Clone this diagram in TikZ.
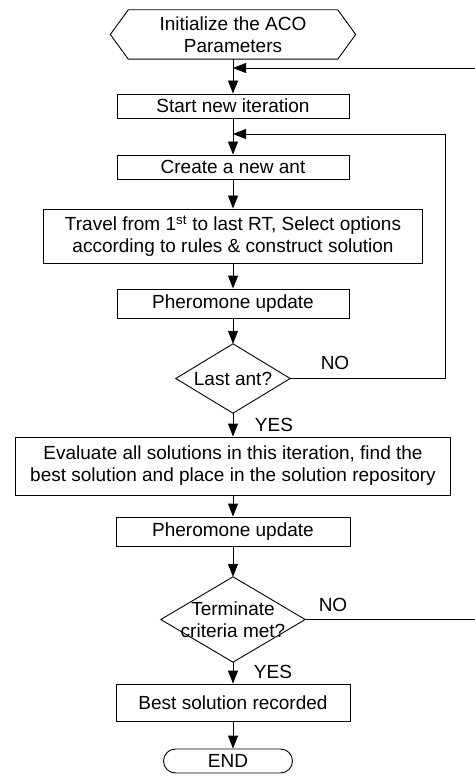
\documentclass[tikz,border=0pt]{standalone}
\usepackage{fontspec}
\setmainfont{Liberation Sans}
\usetikzlibrary{arrows.meta}
\begin{document}
\begin{tikzpicture}[x=1pt,y=1pt,
  every node/.style={font=\fontsize{19}{22}\selectfont, inner sep=0pt, align=center},
  box/.style={draw, line width=0.9pt, minimum width=#1},
  shp/.style={draw=none},
  link/.style={line width=0.9pt, -{Triangle[length=13pt,width=10pt]}},
  plain/.style={line width=0.9pt},
  lbl/.style={}
]
\useasboundingbox (0,0) rectangle (474,-783);

% nodes
\node[shp, minimum width=245pt, minimum height=49pt] (init) at (233,-34.5) {Initialize the ACO\\Parameters};
\draw[plain] (init.west) -- ([xshift=18pt]init.north west) -- ([xshift=-18pt]init.north east) -- (init.east)
  -- ([xshift=-18pt]init.south east) -- ([xshift=18pt]init.south west) -- cycle;

\node[box=232pt, minimum height=24pt] (start) at (233,-106) {Start new iteration};
\node[box=232pt, minimum height=24pt] (ant) at (233,-167) {Create a new ant};
\node[box=379pt, minimum height=54pt] (travel) at (233,-236) {Travel from 1\textsuperscript{st} to last RT, Select options\\according to rules \& construct solution};
\node[box=232pt, minimum height=29pt] (ph1) at (233,-303.5) {Pheromone update};

\node[shp, minimum width=114pt, minimum height=69pt] (last) at (233,-378.5) {Last ant?};
\draw[plain] (last.north) -- (last.east) -- (last.south) -- (last.west) -- cycle;

\node[box=435pt, minimum height=58pt] (eval) at (233,-466) {Evaluate all solutions in this iteration, find the\\best solution and place in the solution repository};
\node[box=234pt, minimum height=29pt] (ph2) at (233,-531.5) {Pheromone update};

\node[shp, minimum width=144pt, minimum height=85pt] (term) at (233,-619.5) {Terminate\\criteria met?};
\draw[plain] (term.north) -- (term.east) -- (term.south) -- (term.west) -- cycle;

\node[box=234pt, minimum height=37pt] (best) at (233,-702.5) {Best solution recorded};
\node[draw, line width=0.9pt, rounded corners=12pt, minimum width=129pt, minimum height=24pt] (end) at (228,-761) {END};

% junctions
\coordinate (j1) at (233,-68);
\coordinate (j2) at (233,-134);
\coordinate (r1) at (476,-619.5);
\coordinate (r2) at (445.5,-378.5);

% connectors
\draw[link] (init.south) -- (start.north);
\draw[link] (start.south) -- (ant.north);
\draw[link] (ant.south) -- (travel.north);
\draw[link] (travel.south) -- (ph1.north);
\draw[link] (ph1.south) -- (last.north);
\draw[link] (last.south) -- (eval.north);
\draw[link] (eval.south) -- (ph2.north);
\draw[link] (ph2.south) -- (term.north);
\draw[link] (term.south) -- (best.north);
\draw[link] (best.south) -- (best.south |- end.north);

% feedback loops
\draw[link] (last.east) -- (r2) |- (j2);
\draw[link] (term.east) -- (r1) |- (j1);

% labels
\node[lbl] at (335,-363) {NO};
\node[lbl] at (274,-425) {YES};
\node[lbl] at (333,-605) {NO};
\node[lbl] at (273,-672) {YES};
\end{tikzpicture}
\end{document}
